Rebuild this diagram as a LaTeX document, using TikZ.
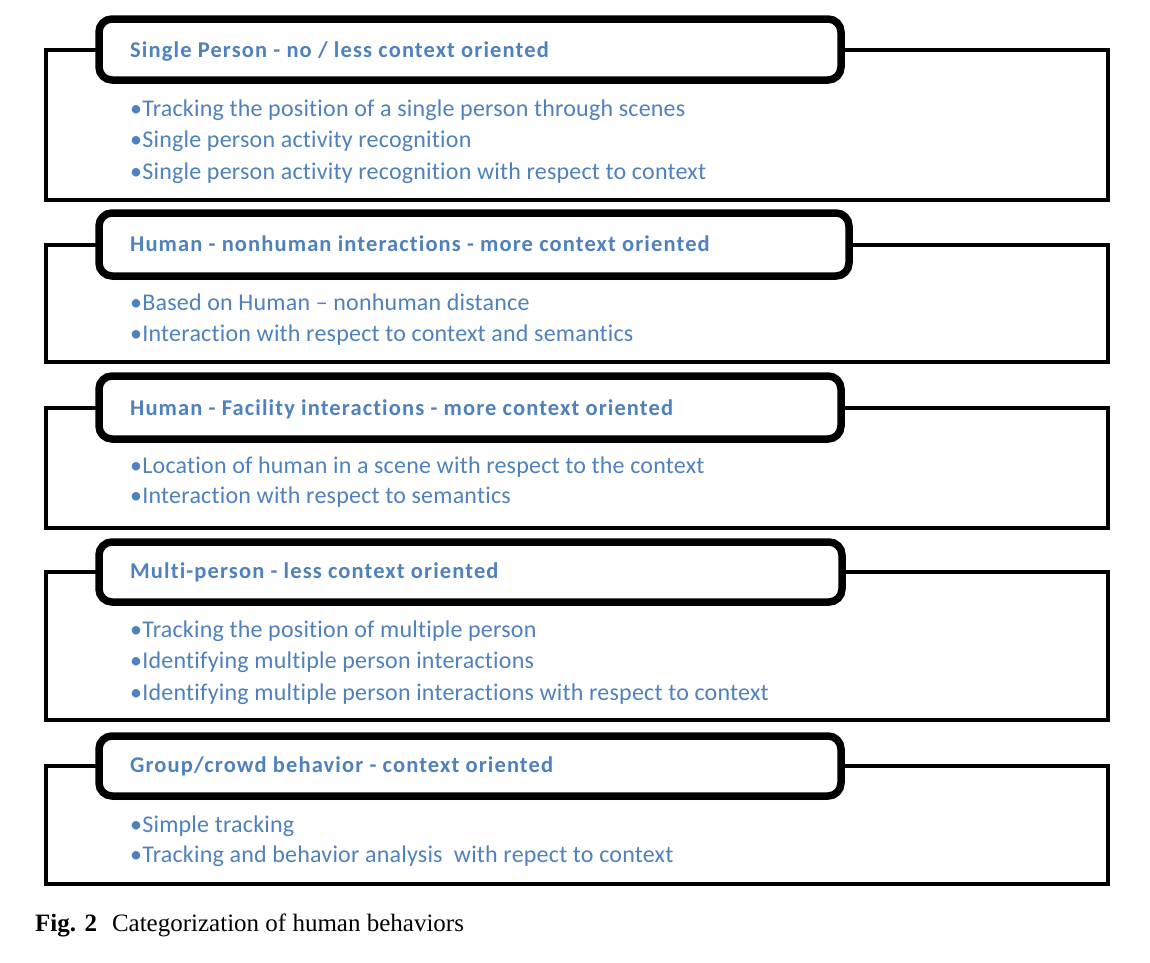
\documentclass[tikz,border=0pt]{standalone}
\usepackage{fontspec}
\setmainfont{Liberation Serif}
\newfontfamily\carlitoH[Ligatures=NoCommon, LetterSpace=5]{Carlito}
\newfontfamily\carlitoI[Ligatures=NoCommon, LetterSpace=0.9]{Carlito}
\usetikzlibrary{shadows}
\definecolor{txtblue}{HTML}{4F81BD}
\begin{document}
\begin{tikzpicture}[x=1pt,y=-1pt,
  outerbox/.style={draw=black, line width=4.5pt, fill=white, rectangle, outer sep=0pt, inner sep=0pt, anchor=north west, minimum width=1062pt},
  headbox/.style={draw=black, line width=7.5pt, fill=white, rectangle, rounded corners=13pt, outer sep=0pt, inner sep=0pt, anchor=north west,
     drop shadow={shadow xshift=1pt, shadow yshift=-4pt, opacity=0.2}},
  headtxt/.style={anchor=base west, inner sep=0pt, font=\carlitoH\bfseries\fontsize{22.5}{27}\selectfont, text=txtblue},
  itemtxt/.style={anchor=base west, inner sep=0pt, font=\carlitoI\fontsize{24}{29}\selectfont, text=txtblue},
  captxt/.style={anchor=base west, inner sep=0pt, font=\fontsize{25}{29}\selectfont, text=black}
]
\useasboundingbox (0,0) rectangle (1150,962);

% outer boxes
\node[outerbox, minimum height=150pt] (b1) at (46,50) {};
\node[outerbox, minimum height=117pt] (b2) at (46,245) {};
\node[outerbox, minimum height=120pt] (b3) at (46,408) {};
\node[outerbox, minimum height=148pt] (b4) at (46,572) {};
\node[outerbox, minimum height=118pt] (b5) at (46,766) {};

% header boxes
\node[headbox, minimum width=742pt, minimum height=61pt] (h1) at (99,19) {};
\node[headbox, minimum width=750pt, minimum height=63pt] (h2) at (99,213) {};
\node[headbox, minimum width=742pt, minimum height=63pt] (h3) at (99,376) {};
\node[headbox, minimum width=743pt, minimum height=60pt] (h4) at (99,542) {};
\node[headbox, minimum width=742pt, minimum height=60pt] (h5) at (99,736) {};

% header texts
\node[headtxt] (t1) at (130,57) {Single Person - no / less context oriented};
\node[headtxt] (t2) at (130,251) {Human - nonhuman interactions - more context oriented};
\node[headtxt] (t3) at (130,415) {Human - Facility interactions - more context oriented};
\node[headtxt] (t4) at (130,578) {Multi-person - less context oriented};
\node[headtxt] (t5) at (130,772) {Group/crowd behavior - context oriented};

% items
\node[itemtxt] (i11) at (130,116) {•Tracking the position of a single person through scenes};
\node[itemtxt] (i12) at (130,147.5) {•Single person activity recognition};
\node[itemtxt] (i13) at (130,179) {•Single person activity recognition with respect to context};

\node[itemtxt] (i21) at (130,310) {•Based on Human – nonhuman distance};
\node[itemtxt] (i22) at (130,341) {•Interaction with respect to context and semantics};

\node[itemtxt] (i31) at (130,473.5) {•Location of human in a scene with respect to the context};
\node[itemtxt] (i32) at (130,503.5) {•Interaction with respect to semantics};

\node[itemtxt] (i41) at (130,637) {•Tracking the position of multiple person};
\node[itemtxt] (i42) at (130,668) {•Identifying multiple person interactions};
\node[itemtxt] (i43) at (130,700) {•Identifying multiple person interactions with respect to context};

\node[itemtxt] (i51) at (130,832) {•Simple tracking};
\node[itemtxt] (i52) at (130,862) {•Tracking and behavior analysis~ with repect to context};

% caption
\node[captxt] (cap) at (35,931) {\textbf{Fig. 2}\hspace{15pt}Categorization of human behaviors};
\end{tikzpicture}
\end{document}
